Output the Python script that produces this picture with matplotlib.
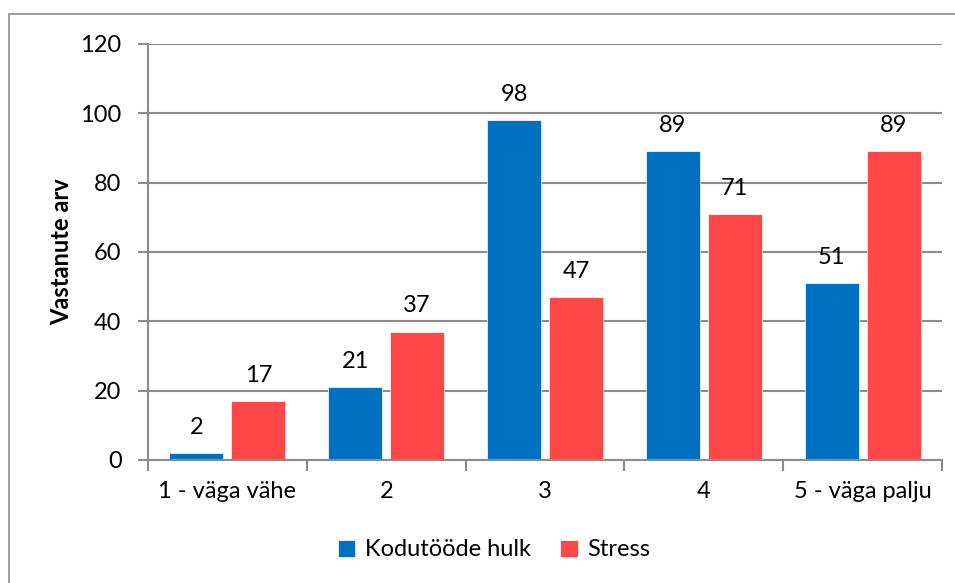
import matplotlib.pyplot as plt
import numpy as np
from matplotlib.patches import Rectangle

plt.rcParams['font.family'] = ['Lato', 'DejaVu Sans']

categories = ["1 - väga vähe", "2", "3", "4", "5 - väga palju"]
kodutood = [2, 21, 98, 89, 51]
stress = [17, 37, 47, 71, 89]
series_names = ["Kodutööde hulk", "Stress"]

blue = "#0070C0"
red = "#FF4747"
grid_col = "#8C8C8C"

fig = plt.figure(figsize=(9.55, 5.83), dpi=100)
ax = fig.add_axes([148 / 955, 1 - 460 / 583, (942 - 148) / 955, (460 - 44) / 583])

# outer chart border
fig.patches.append(Rectangle((9 / 955, -0.01), 1.0, 1 - 14 / 583 + 0.01,
                             transform=fig.transFigure, fill=False,
                             edgecolor="#8C8C8C", linewidth=1.2))

x = np.arange(len(categories))
w = 0.34
off = 0.195
b1 = ax.bar(x - off, kodutood, w, color=blue, edgecolor="white", linewidth=0.5, label=series_names[0])
b2 = ax.bar(x + off, stress, w, color=red, edgecolor="white", linewidth=0.5, label=series_names[1])
ax.bar_label(b1, padding=11, fontsize=17)
ax.bar_label(b2, padding=11, fontsize=17)

ax.set_xlim(-0.5, len(categories) - 0.5)
ax.set_ylim(0, 120)
ax.set_yticks(range(0, 121, 20))
ax.set_xticks(x)
ax.set_xticklabels(categories, fontsize=17)
ax.set_xticks(np.arange(-0.5, len(categories)), minor=True)
ax.tick_params(axis="x", which="major", length=0, pad=15)
ax.tick_params(axis="x", which="minor", length=8, color=grid_col, width=1.5)
ax.tick_params(axis="y", length=7, color=grid_col, width=1.5, labelsize=17, pad=12)

ax.grid(axis="y", color=grid_col, linewidth=1.5)
ax.set_axisbelow(True)
for s in ["top", "right"]:
    ax.spines[s].set_visible(False)
for s in ["left", "bottom"]:
    ax.spines[s].set_color(grid_col)
    ax.spines[s].set_linewidth(1.5)

ax.set_ylabel("Vastanute arv", fontsize=17, fontweight="bold", labelpad=5)

fig.legend(handles=[b1, b2], loc="center", bbox_to_anchor=(494 / 955, 1 - 550 / 583),
           ncol=2, frameon=False, fontsize=17, handlelength=0.75, handleheight=0.75,
           handletextpad=0.4, columnspacing=1.25)

fig.savefig("out.png", dpi=100)
